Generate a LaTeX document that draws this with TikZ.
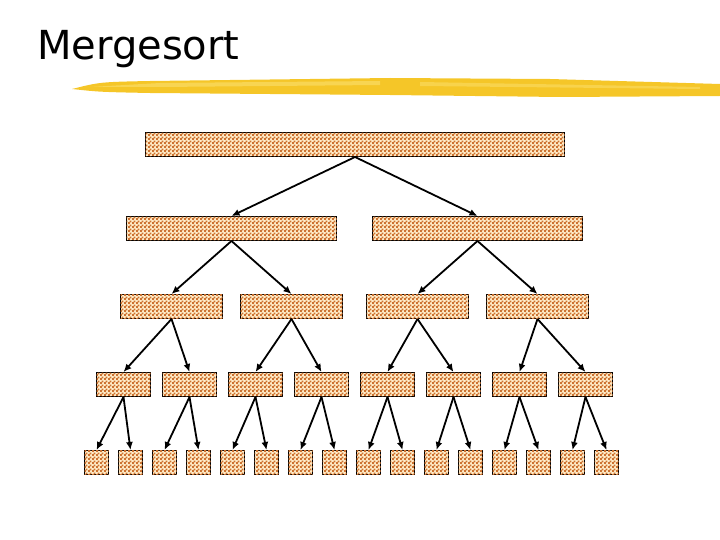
\documentclass[tikz,border=0pt]{standalone}
\usepackage{fontspec}
\setmainfont{DejaVu Sans}
\usetikzlibrary{patterns,arrows.meta}
\pgfdeclarepatternformonly{mydots}{\pgfpointorigin}{\pgfqpoint{4pt}{4pt}}{\pgfqpoint{4pt}{4pt}}{%
  \pgfpathrectangle{\pgfqpoint{0pt}{0pt}}{\pgfqpoint{2.2pt}{2.2pt}}%
  \pgfpathrectangle{\pgfqpoint{2pt}{2pt}}{\pgfqpoint{2.2pt}{2.2pt}}%
  \pgfusepath{fill}}
\definecolor{cream}{RGB}{255,236,200}
\definecolor{dotc}{RGB}{205,115,50}
\definecolor{hiY}{RGB}{245,198,40}
\definecolor{hiL}{RGB}{250,220,100}
\tikzset{
  sortbox/.style={draw=black, line width=1pt, fill=cream,
    postaction={pattern=mydots, pattern color=dotc},
    inner sep=0pt, anchor=north west, minimum height=24pt},
  arr/.style={line width=1.8pt, -{Latex[length=8pt,width=7pt]}}
}
\begin{document}
\begin{tikzpicture}[x=1pt,y=-1pt]
\useasboundingbox (0,0) rectangle (720,540);
% title
\node[anchor=base west, inner sep=0pt, font=\fontsize{40}{44}\selectfont] (title) at (37,60) {Mergesort};
% highlighter stroke
\fill[hiY] (72,89) .. controls (100,82) .. (150,81) -- (390,78) -- (550,79) -- (720,84) -- (720,96) -- (560,97) -- (390,95) -- (150,93) .. controls (100,92) .. (72,89) -- cycle;
\fill[hiL, opacity=0.7] (90,87) -- (160,83) -- (380,81) -- (380,85) -- (160,87) -- cycle;
\fill[hiL, opacity=0.6] (420,82) -- (700,87) -- (700,89) -- (420,86) -- cycle;
% level 0
\node[sortbox, minimum width=419pt] (L0) at (145,132) {};
% level 1
\node[sortbox, minimum width=210pt] (L1-1) at (126,216) {};
\node[sortbox, minimum width=210pt] (L1-2) at (372,216) {};
% level 2
\foreach \i/\x in {1/120,2/240,3/366,4/486}
  \node[sortbox, minimum width=102pt] (L2-\i) at (\x,294) {};
% level 3
\foreach \i in {1,...,8}
  \node[sortbox, minimum width=54pt] (L3-\i) at ({96+66*(\i-1)},372) {};
% level 4
\foreach \i in {1,...,16}
  \node[sortbox, minimum width=24pt] (L4-\i) at ({84+34*(\i-1)},450) {};
% arrows
\draw[arr] (L0.south) -- (L1-1.north);
\draw[arr] (L0.south) -- (L1-2.north);
\draw[arr] (L1-1.south) -- (L2-1.north);
\draw[arr] (L1-1.south) -- (L2-2.north);
\draw[arr] (L1-2.south) -- (L2-3.north);
\draw[arr] (L1-2.south) -- (L2-4.north);
\foreach \i in {1,...,4}{
  \pgfmathtruncatemacro{\a}{2*\i-1}
  \pgfmathtruncatemacro{\b}{2*\i}
  \draw[arr] (L2-\i.south) -- (L3-\a.north);
  \draw[arr] (L2-\i.south) -- (L3-\b.north);
}
\foreach \i in {1,...,8}{
  \pgfmathtruncatemacro{\a}{2*\i-1}
  \pgfmathtruncatemacro{\b}{2*\i}
  \draw[arr] (L3-\i.south) -- (L4-\a.north);
  \draw[arr] (L3-\i.south) -- (L4-\b.north);
}
\end{tikzpicture}
\end{document}
